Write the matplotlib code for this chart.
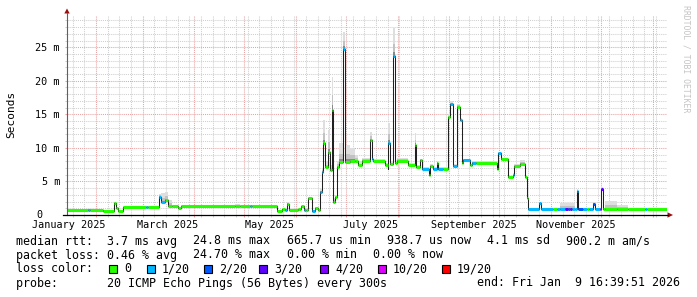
import numpy as np
import pandas as pd
import matplotlib
matplotlib.use('Agg')
import matplotlib.pyplot as plt
import matplotlib.dates as mdates
from matplotlib.ticker import MultipleLocator
from matplotlib.patches import Rectangle, Polygon
from matplotlib.lines import Line2D

W, H = 697, 297
MONO = 'DejaVu Sans Mono'

graph_start = '2025-01-14 16:39:51'
graph_end = '2026-01-09 16:39:51'

# median steps: start time, median rtt (ms), top of smoke (ms), loss colour index
seg_start = [
    '2025-01-14 16:40', '2025-01-27 07:00', '2025-01-28 12:00', '2025-02-05 07:00',
    '2025-02-11 22:00', '2025-02-13 02:00', '2025-02-14 14:00', '2025-02-17 07:00',
    '2025-03-03 02:00', '2025-03-04 07:00', '2025-03-10 20:00', '2025-03-12 02:00',
    '2025-03-14 12:00', '2025-03-16 07:00', '2025-03-18 17:00', '2025-03-22 07:00',
    '2025-03-24 02:00', '2025-04-25 12:00', '2025-04-28 12:00', '2025-05-04 12:00',
    '2025-05-05 12:00', '2025-05-20 17:00', '2025-05-23 17:00', '2025-05-25 12:00',
    '2025-05-26 17:00', '2025-05-27 22:00', '2025-06-02 07:00', '2025-06-04 00:00',
    '2025-06-05 22:00', '2025-06-07 00:00', '2025-06-08 07:00', '2025-06-10 17:00',
    '2025-06-12 12:00', '2025-06-14 07:00', '2025-06-15 05:00', '2025-06-16 17:00',
    '2025-06-17 14:00', '2025-06-18 19:00', '2025-06-20 00:00', '2025-06-21 05:00',
    '2025-06-22 10:00', '2025-06-23 14:00', '2025-06-24 12:00', '2025-06-25 17:00',
    '2025-06-26 22:00', '2025-06-29 14:00', '2025-06-30 19:00', '2025-07-03 12:00',
    '2025-07-06 12:00', '2025-07-08 07:00', '2025-07-10 17:00', '2025-07-15 05:00',
    '2025-07-16 10:00', '2025-07-17 07:00', '2025-07-24 19:00', '2025-07-26 00:00',
    '2025-07-26 14:00', '2025-07-27 19:00', '2025-07-29 14:00', '2025-07-30 19:00',
    '2025-07-31 17:00', '2025-08-07 07:00', '2025-08-11 05:00', '2025-08-12 02:00',
    '2025-08-14 12:00', '2025-08-15 17:00', '2025-08-19 22:00', '2025-08-20 12:00',
    '2025-08-22 07:00', '2025-08-24 17:00', '2025-08-25 14:00', '2025-08-28 07:00',
    '2025-08-31 14:00', '2025-09-01 12:00', '2025-09-03 14:00', '2025-09-05 10:00',
    '2025-09-07 19:00', '2025-09-08 10:00', '2025-09-09 07:00', '2025-09-13 19:00',
    '2025-09-14 17:00', '2025-09-17 02:00', '2025-09-29 17:00', '2025-09-30 14:00',
    '2025-10-02 02:00', '2025-10-06 14:00', '2025-10-09 00:00', '2025-10-09 22:00',
    '2025-10-13 12:00', '2025-10-16 19:00', '2025-10-17 17:00', '2025-10-18 14:00',
    '2025-10-24 22:00', '2025-10-26 02:00', '2025-11-02 07:00', '2025-11-04 17:00',
    '2025-11-06 12:00', '2025-11-09 12:00', '2025-11-11 07:00', '2025-11-12 12:00',
    '2025-11-13 17:00', '2025-11-15 12:00', '2025-11-16 17:00', '2025-11-17 14:00',
    '2025-11-20 07:00', '2025-11-22 17:00', '2025-11-23 22:00', '2025-11-26 07:00',
    '2025-11-27 05:00', '2025-11-30 12:00', '2025-12-01 02:00', '2025-12-02 07:00',
    '2025-12-03 12:00', '2025-12-10 17:00', '2025-12-17 07:00', '2025-12-27 12:00',
    '2025-12-28 12:00',
]
median_ms = [
    0.80, 0.80, 0.80, 0.65, 1.80, 1.00, 0.60, 1.15,
    1.15, 1.15, 2.70, 1.90, 2.20, 1.40, 1.30, 1.00,
    1.35, 1.35, 1.35, 1.35, 1.35, 0.65, 0.85, 0.70,
    1.70, 0.70, 0.85, 1.30, 0.70, 0.70, 2.50, 0.65,
    1.10, 0.80, 3.50, 6.40, 10.70, 7.10, 9.40, 6.70,
    15.70, 2.00, 2.70, 7.20, 7.90, 24.80, 7.90, 8.00,
    8.00, 7.40, 8.10, 11.20, 8.40, 8.10, 7.40, 6.80,
    10.80, 7.60, 23.70, 7.70, 8.10, 7.50, 10.40, 7.10,
    8.20, 6.90, 6.00, 7.30, 6.90, 7.80, 6.90, 6.90,
    14.60, 16.50, 7.30, 16.10, 14.10, 7.70, 8.20, 7.40,
    7.80, 7.80, 6.90, 9.20, 8.30, 5.60, 6.00, 7.30,
    7.60, 5.60, 2.50, 0.90, 1.80, 0.90, 0.90, 0.90,
    0.90, 0.90, 0.90, 0.90, 0.90, 0.90, 3.60, 0.90,
    0.90, 0.90, 0.90, 1.70, 0.90, 0.90, 3.90, 0.90,
    0.90, 0.90, 0.90, 0.90, 0.90,
]
smoke_ms = [
    0.95, 0.95, 0.95, 0.80, 2.00, 1.10, 0.70, 1.30,
    1.30, 1.30, 3.20, 3.30, 3.50, 2.20, 1.45, 1.10,
    1.45, 1.60, 1.45, 1.45, 1.45, 0.75, 1.00, 0.80,
    1.90, 0.80, 1.00, 1.40, 0.80, 0.80, 2.70, 0.80,
    1.20, 0.90, 3.80, 7.00, 14.10, 8.00, 12.60, 7.50,
    20.60, 2.50, 3.00, 8.00, 10.70, 27.30, 10.50, 10.00,
    9.00, 8.00, 8.50, 12.40, 8.70, 8.40, 7.80, 7.20,
    13.70, 8.00, 27.80, 8.20, 8.50, 7.80, 12.20, 7.40,
    8.40, 7.20, 6.30, 7.60, 7.10, 8.00, 7.10, 7.10,
    15.00, 17.00, 7.60, 16.60, 14.50, 8.00, 8.40, 7.60,
    8.00, 8.00, 7.10, 9.40, 8.50, 5.80, 6.20, 7.60,
    8.20, 5.80, 2.70, 1.00, 2.00, 1.00, 1.00, 1.00,
    1.75, 1.75, 1.75, 1.75, 1.75, 1.00, 3.80, 1.00,
    1.00, 1.00, 1.00, 1.90, 1.00, 1.00, 4.10, 1.00,
    2.10, 1.50, 1.00, 1.00, 1.00,
]
loss_idx = [
    0, 1, 0, 0, 0, 0, 0, 0,
    1, 0, 1, 1, 0, 0, 0, 0,
    0, 0, 0, 1, 0, 0, 0, 1,
    0, 0, 0, 0, 1, 0, 0, 1,
    0, 0, 1, 1, 0, 0, 0, 0,
    0, 0, 0, 0, 0, 1, 0, 0,
    0, 0, 0, 0, 1, 0, 0, 1,
    1, 0, 1, 0, 0, 0, 0, 0,
    0, 1, 0, 0, 1, 0, 1, 0,
    0, 1, 1, 0, 1, 0, 1, 0,
    1, 0, 0, 1, 0, 0, 1, 0,
    0, 0, 0, 1, 1, 1, 0, 1,
    1, 3, 2, 4, 1, 1, 1, 2,
    1, 0, 1, 2, 1, 4, 3, 0,
    0, 0, 0, 1, 0,
]

loss_labels = ['0', '1/20', '2/20', '3/20', '4/20', '10/20', '19/20']
loss_colors = ['#26ff00', '#00b8ff', '#0059ff', '#5e00ff', '#7e00ff', '#dd00ff', '#ff0000']

month_labels = ['January 2025', 'March 2025', 'May 2025', 'July 2025',
                'September 2025', 'November 2025']
month_label_at = ['2025-01-16', '2025-03-16', '2025-05-16', '2025-07-16',
                  '2025-09-16', '2025-11-16']

ytick_vals = [5, 10, 15, 20, 25]
ytick_text = ['5 m', '10 m', '15 m', '20 m', '25 m']

rtt_stats = ['median rtt:  3.7 ms avg', '24.8 ms max', '665.7 us min',
             '938.7 us now', '4.1 ms sd', '900.2 m am/s']
rtt_x = [16, 193.3, 286.6, 386.9, 487.2, 566.5]
loss_stats = ['packet loss: 0.46 % avg', '24.70 % max', '0.00 % min', '0.00 % now']
loss_x = [16, 193.3, 286.6, 372.9]
probe_text = 'probe:       20 ICMP Echo Pings (56 Bytes) every 300s'
end_text = 'end: Fri Jan  9 16:39:51 2026'


def fx(x):
    return x / W


def fy(y):
    return 1 - y / H


fig = plt.figure(figsize=(W / 100, H / 100), dpi=100)
fig.patch.set_facecolor('white')
ax = fig.add_axes([fx(67), fy(215), 600 / W, 200 / H])

t = mdates.date2num(pd.to_datetime(seg_start + [graph_end], format='ISO8601'))
med = np.array(median_ms + [median_ms[-1]])
hi = np.array(smoke_ms + [smoke_ms[-1]])

# smoke, light at the top and darker near the median
ax.fill_between(t, med, hi, step='post', color='#dedede', lw=0, zorder=2)
ax.fill_between(t, med, med + 0.45 * (hi - med), step='post', color='#c2c2c2', lw=0, zorder=2)
ax.fill_between(t, med, med + 0.15 * (hi - med), step='post', color='#8a8a8a', lw=0, zorder=2)

ax.step(t, med, where='post', color='#202020', lw=0.75, zorder=3)

for i in range(len(median_ms)):
    ax.plot([t[i], t[i + 1]], [med[i], med[i]], color=loss_colors[loss_idx[i]],
            lw=2.2, solid_capstyle='butt', zorder=4)

ax.set_xlim(mdates.date2num(pd.Timestamp(graph_start)), mdates.date2num(pd.Timestamp(graph_end)))
ax.set_ylim(0, 29.8)

ax.xaxis.set_major_locator(mdates.MonthLocator())
ax.xaxis.set_minor_locator(mdates.WeekdayLocator(byweekday=mdates.SA))
ax.yaxis.set_major_locator(MultipleLocator(5))
ax.yaxis.set_minor_locator(MultipleLocator(1))
ax.set_xticklabels([])
ax.set_yticks(ytick_vals)
ax.set_yticklabels(ytick_text, family=MONO, fontsize=7.3)

ax.grid(which='major', color='#e9a3a3', ls=(0, (1, 1)), lw=0.75)
ax.grid(which='minor', color='#cfcfcf', ls=(0, (1, 1)), lw=0.75)
ax.set_axisbelow(True)
ax.tick_params(which='major', length=1.5, width=0.75, color='#e9a3a3', pad=3.6)
ax.tick_params(which='minor', length=1.5, width=0.75, color='#cfcfcf')
for s in ax.spines.values():
    s.set_visible(False)

ax.text(-31 / 600, 0, '0', transform=ax.transAxes, family=MONO, fontsize=7.3,
        ha='left', va='center')
for lab, d in zip(month_labels, month_label_at):
    ax.text(mdates.date2num(pd.Timestamp(d)), -10 / 200, lab,
            transform=ax.get_xaxis_transform(), family=MONO, fontsize=7.3,
            ha='center', va='center')

# axes with arrows
fig.add_artist(Line2D([fx(67), fx(67)], [fy(215), fy(13)], color='#606060', lw=0.8))
fig.add_artist(Line2D([fx(63), fx(668)], [fy(215), fy(215)], color='#000000', lw=0.9))
fig.add_artist(Polygon([(fx(64.3), fy(13.5)), (fx(69.7), fy(13.5)), (fx(67), fy(8.5))],
                       closed=True, color='#9a1010', lw=0))
fig.add_artist(Polygon([(fx(667.5), fy(212.3)), (fx(667.5), fy(217.7)), (fx(673), fy(215))],
                       closed=True, color='#9a1010', lw=0))

fig.text(fx(11), fy(114), 'Seconds', rotation=90, family=MONO, fontsize=8,
         ha='center', va='center')
fig.text(fx(686), fy(59), 'RRDTOOL / TOBI OETIKER', rotation=-90, family=MONO,
         fontsize=5.9, color='#c4c4c4', ha='center', va='center')

# legend block
fs = 8.4
row_y = [241, 255, 269, 283]
for s, x in zip(rtt_stats, rtt_x):
    fig.text(fx(x), fy(row_y[0]), s, family=MONO, fontsize=fs, va='center')
for s, x in zip(loss_stats, loss_x):
    fig.text(fx(x), fy(row_y[1]), s, family=MONO, fontsize=fs, va='center')
fig.text(fx(16), fy(row_y[2]), 'loss color:', family=MONO, fontsize=fs, va='center')
for lab, col, x in zip(loss_labels, loss_colors, [109, 147, 204, 259, 320, 378, 442]):
    fig.add_artist(Rectangle((fx(x), fy(row_y[2] + 4)), 8 / W, 8 / H,
                             facecolor=col, edgecolor='black', lw=0.8))
    fig.text(fx(x + 15), fy(row_y[2]), lab, family=MONO, fontsize=fs, va='center')
fig.text(fx(16), fy(row_y[3]), probe_text, family=MONO, fontsize=fs, va='center')
fig.text(fx(680), fy(row_y[3]), end_text, family=MONO, fontsize=fs, va='center', ha='right')

fig.savefig('out.png', dpi=100)
